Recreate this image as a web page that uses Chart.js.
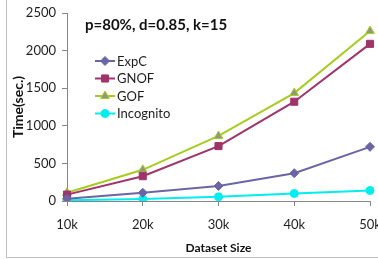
<!DOCTYPE html>
<html>
<head>
<meta charset="utf-8">
<script src="https://cdn.jsdelivr.net/npm/chart.js@4/dist/chart.umd.min.js"></script>
<style>
html,body{margin:0;padding:0;background:#fff;}
#wrap{width:378px;height:259px;position:relative;}
</style>
</head>
<body>
<div id="wrap"><canvas id="c" width="378" height="259"></canvas></div>
<script>
const categories = ['10k', '20k', '30k', '40k', '50k'];
const expcValues = [30, 110, 200, 370, 720];
const gnofValues = [85, 330, 730, 1320, 2090];
const gofValues = [110, 415, 865, 1435, 2260];
const incognitoValues = [10, 25, 55, 100, 140];
const yTickValues = [0, 500, 1000, 1500, 2000, 2500];
const annotationText = 'p=80%, d=0.85, k=15';
const xTitle = 'Dataset Size';
const yTitle = 'Time(sec.)';

const FONT = 'Lato';
const TXT = '#1e1e1e';
const AXIS = '#868686';

const datasets = [
  {label:'ExpC', data:expcValues, borderColor:'#6A66A6', backgroundColor:'#6A66A6',
   pointStyle:'rectRot', pointRadius:4.5, pointBackgroundColor:'#6A66A6', pointBorderColor:'#6A66A6'},
  {label:'GNOF', data:gnofValues, borderColor:'#A0336A', backgroundColor:'#A0336A',
   pointStyle:'rect', pointRadius:5, pointBackgroundColor:'#A0336A', pointBorderColor:'#A0336A'},
  {label:'GOF', data:gofValues, borderColor:'#A6CC1E', backgroundColor:'#A6CC1E',
   pointStyle:'triangle', pointRadius:5, pointBackgroundColor:'#8E9A7C', pointBorderColor:'#A6CC1E'},
  {label:'Incognito', data:incognitoValues, borderColor:'#00EEF0', backgroundColor:'#00EEF0',
   pointStyle:'circle', pointRadius:4, pointBackgroundColor:'#00EEF0', pointBorderColor:'#00EEF0'}
].map(d => Object.assign({borderWidth:2, pointBorderWidth:1, tension:0, fill:false}, d));

const overlay = {
  id:'overlay',
  beforeDraw(chart){
    const ctx = chart.ctx;
    ctx.save();
    ctx.strokeStyle = '#BFBFBF';
    ctx.lineWidth = 1;
    ctx.beginPath();
    ctx.moveTo(6.5, 0); ctx.lineTo(6.5, 257.5); ctx.lineTo(378, 257.5);
    ctx.stroke();
    ctx.restore();
  },
  afterDraw(chart){
    const ctx = chart.ctx;
    ctx.save();
    ctx.fillStyle = '#111';
    ctx.font = 'bold 15px ' + FONT;
    ctx.textBaseline = 'middle';
    ctx.textAlign = 'left';
    ctx.fillText(annotationText, 85, 25.5);
    // legend
    const ys = [61, 78.5, 96, 113.5];
    chart.data.datasets.forEach((ds, i) => {
      const y = ys[i];
      ctx.strokeStyle = ds.borderColor;
      ctx.lineWidth = 2;
      ctx.beginPath(); ctx.moveTo(95, y); ctx.lineTo(115, y); ctx.stroke();
      ctx.fillStyle = ds.pointBackgroundColor;
      ctx.strokeStyle = ds.pointBorderColor;
      ctx.lineWidth = 1;
      Chart.helpers.drawPoint(ctx, {pointStyle: ds.pointStyle, radius: ds.pointRadius, borderWidth:1}, 105, y);
      ctx.fillStyle = TXT;
      ctx.font = '13px ' + FONT;
      ctx.textBaseline = 'middle';
      ctx.fillText(ds.label, 117, y + 0.5);
    });
    ctx.restore();
  }
};

new Chart(document.getElementById('c'), {
  type:'line',
  data:{labels:categories, datasets},
  options:{
    responsive:false,
    animation:false,
    devicePixelRatio:1,
    layout:{padding:{top:13, right:8, left:0, bottom:0}},
    plugins:{legend:{display:false}, tooltip:{enabled:false}, title:{display:false}},
    scales:{
      x:{
        offset:false,
        grid:{display:true, drawOnChartArea:false, drawTicks:true, tickLength:5, color:AXIS, offset:false},
        border:{display:true, color:AXIS, width:1},
        ticks:{color:TXT, font:{family:FONT, size:13}, padding:11, maxRotation:0, autoSkip:false},
        title:{display:true, text:xTitle, color:'#111', font:{family:FONT, size:12, weight:'bold'}, padding:{top:0, bottom:4}},
        afterFit(s){ s.height = 58; s.paddingLeft = 0; s.paddingRight = 0; }
      },
      y:{
        min:0, max:2500,
        afterBuildTicks(s){ s.ticks = yTickValues.map(v => ({value:v})); },
        grid:{display:true, drawOnChartArea:false, drawTicks:true, tickLength:5, color:AXIS},
        border:{display:true, color:AXIS, width:1},
        ticks:{color:TXT, font:{family:FONT, size:13}, padding:6, callback:(v) => String(Math.round(v))},
        title:{display:true, text:yTitle, color:'#111', font:{family:FONT, size:14, weight:'bold'}, padding:{top:10, bottom:0}},
        afterFit(s){ s.width = 67; s.paddingTop = 0; s.paddingBottom = 0; }
      }
    }
  },
  plugins:[overlay]
});
</script>
</body>
</html>
